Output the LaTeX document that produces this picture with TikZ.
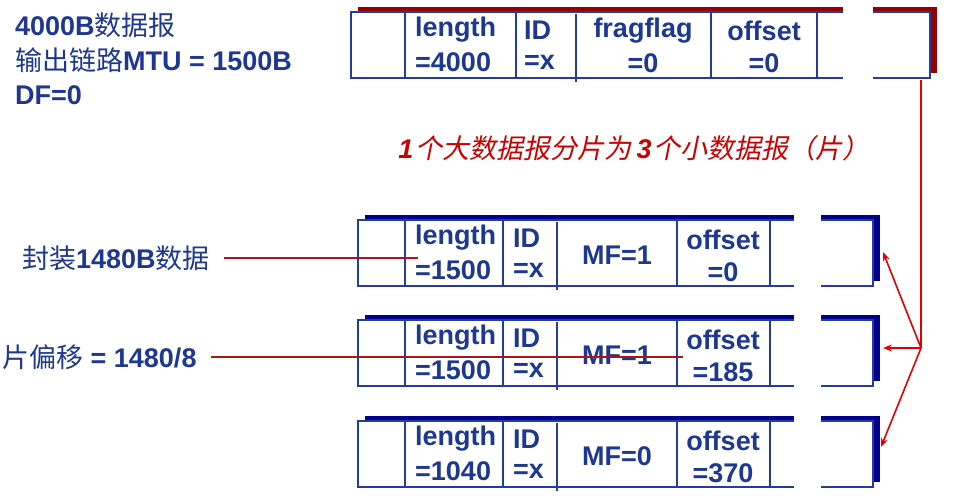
\documentclass[tikz,border=0pt]{standalone}
\usepackage{fontspec}
\setmainfont{Liberation Sans}
\newfontfamily\cjk{Noto Sans CJK SC}
\newfontfamily\cjkit[FakeSlant=0.2]{Noto Sans CJK SC}
\usetikzlibrary{arrows.meta}
\definecolor{tblue}{RGB}{30,55,145}
\definecolor{bblue}{RGB}{35,60,160}
\definecolor{navysh}{RGB}{0,0,140}
\definecolor{redsh}{RGB}{150,0,0}
\definecolor{lred}{RGB}{175,20,20}
\definecolor{ared}{RGB}{225,0,0}
\definecolor{tred}{RGB}{205,0,0}
\newcommand\zh[1]{{\cjk\mdseries #1}}
\newcommand\zhit[1]{{\cjkit\mdseries #1}}
\newcommand\pktframe[7]{%
  \fill[#7] (#1+7,#2-5) rectangle (#5,#2);
  \fill[#7] (#6,#2-5) rectangle (#3+7,#2);
  \fill[#7] (#3,#2-5) rectangle (#3+7,#4-5);
  \draw[boxline] (#5,#2) -- (#1,#2) -- (#1,#4) -- (#5,#4);
  \draw[boxline] (#6,#2) -- (#3,#2) -- (#3,#4) -- (#6,#4);
}
\tikzset{
  boxline/.style={draw=bblue, line width=2pt},
  fld/.style={inner sep=0pt, text=tblue, font=\bfseries\fontsize{27}{29}\selectfont},
  lbl/.style={inner sep=0pt, text=tblue, font=\bfseries\fontsize{27}{29}\selectfont, anchor=west},
  redline/.style={draw=lred, line width=2pt},
  arrline/.style={draw=ared, line width=1.6pt},
  arr/.style={arrline, -{Stealth[length=9pt,width=7pt]}},
}
\begin{document}
\begin{tikzpicture}[x=1pt,y=-1pt]
\useasboundingbox (0,0) rectangle (953,501);
\fill[white] (0,0) rectangle (953,501);

% ---- original datagram ----
\pktframe{351}{12}{930}{78}{843}{873}{redsh}
\foreach \dx in {405,516,711,817} {\draw[boxline] (\dx,12) -- (\dx,78);}
\draw[boxline] (576,14) -- (576,82);
\node[fld, anchor=west] (olen) at (415,30) {length};
\node[fld, anchor=west] (olenv) at (415,62) {=4000};
\node[fld, anchor=west] (oid) at (524,30) {ID};
\node[fld, anchor=west] (oidv) at (524,62) {=x};
\node[fld] (oflag) at (643,31) {fragflag};
\node[fld] (oflagv) at (643,63) {=0};
\node[fld] (ooff) at (764,31) {offset};
\node[fld] (ooffv) at (764,63) {=0};

% ---- fragments ----
\foreach \t/\n/\len/\mf/\off in {220/1/1500/1/0, 320/2/1500/1/185, 421/3/1040/0/370} {
  \pktframe{358}{\t}{873}{\t+66}{794}{821}{navysh}
  \foreach \dx in {405,503,677,770} {\draw[boxline] (\dx,\t) -- (\dx,\t+66);}
  \draw[boxline] (557,\t+2) -- (557,\t+70);
  \node[fld, anchor=west] (len\n) at (415,\t+18) {length};
  \node[fld, anchor=west] (lenv\n) at (415,\t+50) {=\len};
  \node[fld, anchor=west] (id\n) at (513,\t+18) {ID};
  \node[fld, anchor=west] (idv\n) at (513,\t+50) {=x};
  \node[fld] (mf\n) at (617,\t+35) {MF=\mf};
  \node[fld] (off\n) at (723,\t+20) {offset};
  \node[fld] (offv\n) at (723,\t+52) {=\off};
}

% ---- left labels ----
\node[lbl] (t1) at (15,25) {4000B\zh{数据报}};
\node[lbl] (t2) at (15,60) {\zh{输出链路}MTU = 1500B};
\node[lbl] (t3) at (15,95) {DF=0};
\node[lbl] (t4) at (22,258) {\zh{封装}1480B\zh{数据}};
\node[lbl] (t5) at (2,357) {\zh{片偏移} = 1480/8};

% ---- middle red note ----
\node[inner sep=0pt, text=tred, font=\fontsize{27}{29}\selectfont] (note) at (634,148)
  {\textbf{\textit{1}}\hspace{2pt}\zhit{个大数据报分片为}\hspace{5pt}\textbf{\textit{3}}\hspace{2pt}\zhit{个小数据报（片）}};

% ---- connectors ----
\coordinate (p1) at (418,258);
\coordinate (p2) at (683,357);
\draw[redline] ([xshift=14pt]t4.east) -- (p1);
\draw[redline] ([xshift=14pt]t5.east) -- (p2);

\coordinate (src) at (921,80);
\coordinate (junc) at (921,348);
\coordinate (f1r) at (883,252);
\coordinate (f2r) at (883,348);
\coordinate (f3r) at (881,447);
\draw[arrline] (src) -- (junc);
\draw[arr] (junc) -- (f1r);
\draw[arr] (junc) -- (f2r);
\draw[arr] (junc) -- (f3r);
\end{tikzpicture}
\end{document}
